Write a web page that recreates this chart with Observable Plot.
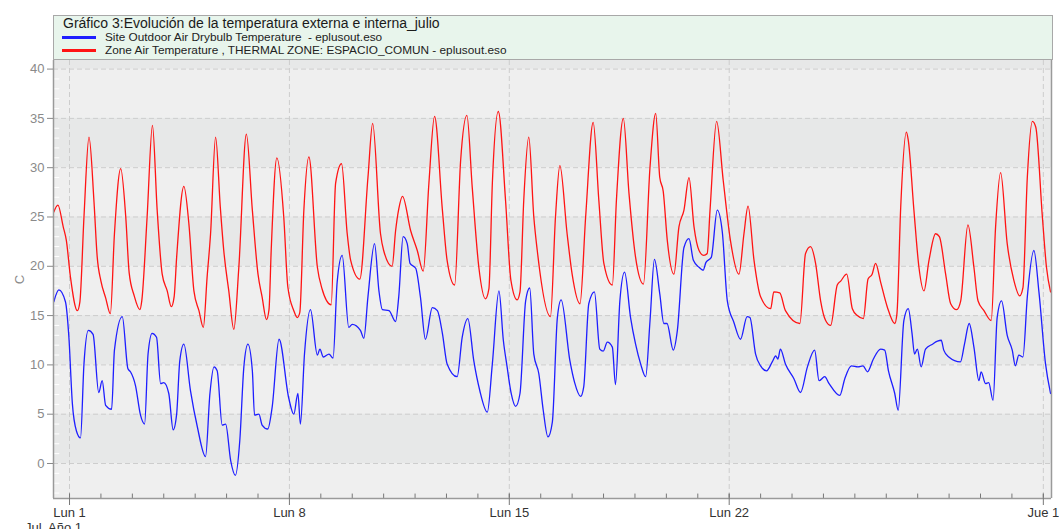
<!DOCTYPE html>
<html><head><meta charset="utf-8">
<script src="https://cdn.jsdelivr.net/npm/d3@7"></script>
<script src="https://cdn.jsdelivr.net/npm/@observablehq/plot@0.6"></script>
<style>
body{margin:0;background:#fff;font-family:"Liberation Sans",Arial,sans-serif;}
#wrap{position:relative;width:1059px;height:529px;overflow:hidden;background:#fff;}
#legend{position:absolute;left:53px;top:15px;width:1000px;height:45px;background:#e8f5ec;border:1px solid #a8a8a8;box-sizing:border-box;}
#legend .title{position:absolute;left:9px;top:0px;font-size:14px;line-height:14px;color:#1a1a1a;white-space:pre;}
#legend .row{position:absolute;left:8px;font-size:11.8px;line-height:13px;color:#222;white-space:pre;}
#legend .sw{display:inline-block;width:34px;height:3px;vertical-align:middle;margin-right:9px;}
#chart{position:absolute;left:0;top:60px;}
#sub{position:absolute;left:25px;top:521px;font-size:13px;line-height:13px;color:#333;white-space:pre;}
</style></head>
<body><div id="wrap">
<div id="legend"></div>
<div id="chart"></div>
<div id="sub"></div>
</div>
<script>
// ---- data (day offset from Jul 1 00:00, temperature °C) ----
const titleText = "Gráfico 3:Evolución de la temperatura externa e interna_julio";
const seriesNames = ["Site Outdoor Air Drybulb Temperature  - eplusout.eso",
                     "Zone Air Temperature , THERMAL ZONE: ESPACIO_COMUN - eplusout.eso"];
const seriesColors = ["#1e1eff", "#ff1414"];
const majorDays = [0, 7, 14, 21, 31];
const majorLabels = ["Lun 1", "Lun 8", "Lun 15", "Lun 22", "Jue 1"];
const minorDays = d3.range(0, 32);
const yTicks = [0, 5, 10, 15, 20, 25, 30, 35, 40];
const minorY = d3.range(-3, 41).filter(v => v % 5 !== 0);
const bandLo = [0, 10, 20, 30, 40];
const bandHi = [5, 15, 25, 35, 45];
const yLabel = "C";
const subLabel = "Jul  Año 1";

const outdoor = [
[-0.5,16.4],[-0.34,17.6],[-0.13,16.4],[-0.02,12.8],[0.09,6.1],[0.22,3.3],[0.35,2.6],[0.46,10.1],[0.6,13.5],[0.75,13.1],[0.93,7.2],
[1.04,8.4],[1.15,5.9],[1.34,5.5],[1.43,11.5],[1.68,14.9],[1.86,9.6],[1.94,9.3],
[2.1,7.9],[2.26,4.9],[2.39,4.0],[2.5,11.1],[2.63,13.2],[2.77,12.8],[2.9,8.1],[3.0,8.2],
[3.16,7.1],[3.3,3.4],[3.41,5.0],[3.51,10.4],[3.64,12.1],[3.85,7.4],
[4.07,3.7],[4.33,0.7],[4.47,7.1],[4.6,9.8],[4.7,9.4],[4.86,3.9],[4.97,4.0],
[5.13,0.3],[5.28,-1.2],[5.42,2.3],[5.55,9.8],[5.68,12.1],[5.82,9.4],[5.89,4.9],
[6.03,5.0],[6.13,3.9],[6.31,3.5],[6.45,5.7],[6.67,12.6],[6.98,6.6],
[7.14,5.0],[7.27,7.1],[7.35,4.0],[7.48,11.1],[7.67,15.6],[7.89,11.0],[7.97,11.6],
[8.08,10.8],[8.26,11.1],[8.39,10.7],[8.52,18.4],[8.68,21.1],[8.89,13.8],
[9.0,14.1],[9.26,13.5],[9.37,12.7],[9.5,16.9],[9.71,22.3],[9.85,17.5],[9.96,15.6],
[10.17,15.5],[10.38,14.4],[10.48,16.9],[10.62,23.0],[10.75,22.3],[10.84,20.3],
[11.02,19.8],[11.17,16.9],[11.33,12.6],[11.55,15.8],[11.71,15.5],[11.87,13.2],
[12.02,10.1],[12.34,8.8],[12.5,12.8],[12.68,14.7],[12.87,10.4],
[13.06,7.4],[13.3,5.2],[13.46,10.1],[13.67,17.5],[13.81,12.5],[13.93,9.8],
[14.06,7.1],[14.2,5.8],[14.34,7.1],[14.52,16.5],[14.65,17.8],[14.78,11.1],[14.94,9.1],
[15.08,5.4],[15.23,2.7],[15.37,4.2],[15.53,14.8],[15.65,16.6],[15.93,10.4],
[16.08,8.2],[16.27,6.8],[16.37,7.8],[16.53,16.2],[16.71,17.4],[16.88,11.6],[16.99,11.4],
[17.12,12.3],[17.28,11.8],[17.38,8.0],[17.52,16.5],[17.67,19.4],[17.86,14.8],
[18.02,12.1],[18.18,10.1],[18.34,8.8],[18.48,14.5],[18.62,20.7],[18.79,17.2],[18.92,14.2],
[19.02,14.2],[19.22,11.5],[19.35,13.5],[19.56,21.9],[19.72,22.8],[19.86,20.6],
[20.04,19.9],[20.17,19.6],[20.26,20.4],[20.43,20.9],[20.62,25.7],[20.78,23.5],[20.94,16.5],
[21.15,14.3],[21.36,12.6],[21.57,14.9],[21.66,14.8],[21.84,11.1],
[22.0,9.9],[22.19,9.4],[22.37,10.3],[22.48,10.9],[22.55,10.6],[22.63,11.6],[22.79,10.1],
[23.06,8.6],[23.27,7.2],[23.49,9.8],[23.72,11.5],[23.86,8.4],
[24.04,8.8],[24.18,8.1],[24.52,6.9],[24.68,8.6],[24.89,9.9],
[25.1,9.8],[25.26,9.9],[25.4,9.3],[25.59,10.6],[25.82,11.6],[25.95,11.5],
[26.07,9.4],[26.27,7.1],[26.38,5.4],[26.56,14.5],[26.7,15.7],[26.82,13.2],[26.9,11.1],
[26.99,11.6],[27.11,9.8],[27.25,11.6],[27.47,12.1],[27.63,12.4],[27.75,12.5],[27.83,11.5],
[27.99,10.8],[28.36,10.3],[28.49,12.1],[28.64,14.2],[28.79,11.8],[28.95,8.4],
[29.02,9.3],[29.16,8.1],[29.26,8.2],[29.4,6.4],[29.53,14.8],[29.67,16.5],[29.85,13.0],
[30.01,11.5],[30.11,9.9],[30.22,11.0],[30.35,10.8],[30.49,16.9],[30.7,21.6],[30.86,17.4],
[31.07,10.1],[31.23,7.1]
];

const zone = [
[-0.5,25.5],[-0.37,26.2],[-0.2,24.0],[-0.1,22.6],[0.03,18.9],[0.25,15.5],[0.33,16.4],[0.46,25.0],[0.62,33.1],[0.78,26.5],[0.88,21.0],
[1.0,18.5],[1.15,16.8],[1.3,15.2],[1.43,23.3],[1.63,29.9],[1.79,25.0],[1.9,19.3],
[2.06,17.0],[2.24,15.6],[2.3,16.5],[2.47,25.0],[2.64,34.3],[2.79,25.7],[2.95,19.2],
[3.11,17.5],[3.24,15.9],[3.33,16.9],[3.41,20.9],[3.64,28.1],[3.8,24.3],[3.96,17.5],
[4.12,15.5],[4.26,13.8],[4.38,18.9],[4.49,23.3],[4.65,33.1],[4.8,26.0],[4.91,21.6],
[5.07,17.5],[5.23,13.6],[5.39,19.9],[5.63,33.4],[5.82,25.7],
[6.0,19.2],[6.13,16.9],[6.27,14.6],[6.35,15.6],[6.42,21.6],[6.6,31.0],[6.82,25.0],[6.95,17.9],
[7.14,15.5],[7.25,14.8],[7.33,15.3],[7.46,25.7],[7.62,31.1],[7.89,19.9],
[8.04,17.7],[8.33,16.1],[8.47,28.4],[8.66,30.4],[8.84,23.3],[8.95,20.6],
[9.24,18.7],[9.5,29.0],[9.65,34.5],[9.9,23.3],
[10.0,21.6],[10.27,20.0],[10.38,23.6],[10.48,25.8],[10.6,27.1],[10.86,23.6],
[11.07,21.6],[11.26,19.5],[11.44,28.4],[11.62,35.2],[11.87,25.7],
[12.02,20.6],[12.26,18.1],[12.45,30.7],[12.65,35.3],[12.82,28.0],
[13.03,19.9],[13.24,16.7],[13.35,17.7],[13.46,28.4],[13.65,35.7],[13.88,26.7],
[14.05,18.6],[14.25,16.6],[14.34,17.4],[14.46,26.7],[14.62,33.1],[14.78,25.0],[14.89,21.6],
[15.31,14.9],[15.47,25.0],[15.61,30.2],[15.84,23.3],
[16.0,19.2],[16.25,16.2],[16.43,25.0],[16.67,34.6],[16.85,26.7],
[17.01,20.3],[17.28,18.1],[17.41,26.7],[17.63,35.0],[17.81,27.4],
[18.02,20.9],[18.27,18.2],[18.48,30.1],[18.66,35.5],[18.79,29.0],[18.9,27.6],
[19.03,22.6],[19.24,19.2],[19.4,24.0],[19.56,25.7],[19.72,29.0],[19.88,24.0],
[20.04,21.6],[20.19,21.1],[20.3,21.3],[20.39,25.7],[20.6,34.7],[20.81,28.7],
[21.04,22.6],[21.31,19.2],[21.47,23.3],[21.6,26.1],[21.79,20.6],
[22.0,16.9],[22.32,15.7],[22.42,17.4],[22.61,17.3],[22.79,15.5],
[23.25,14.2],[23.43,21.3],[23.59,22.0],[23.75,20.3],[23.91,16.5],
[24.07,14.5],[24.23,14.0],[24.44,18.1],[24.55,18.5],[24.74,19.2],[24.92,15.7],
[25.08,15.0],[25.27,14.7],[25.42,18.7],[25.55,19.2],[25.66,20.3],[25.82,18.4],
[26.03,15.9],[26.27,14.2],[26.34,15.2],[26.46,26.0],[26.64,33.6],[26.7,32.8],[26.88,25.7],
[27.04,19.9],[27.2,17.5],[27.36,20.6],[27.57,23.3],[27.69,23.0],[27.89,19.2],
[28.05,16.2],[28.24,15.6],[28.37,16.5],[28.6,24.2],[28.79,19.9],[28.92,16.5],
[29.11,15.5],[29.34,14.5],[29.48,24.0],[29.64,29.5],[29.85,22.3],
[30.06,18.6],[30.25,17.0],[30.35,17.8],[30.49,29.0],[30.65,34.7],[30.76,34.1],[30.97,25.0],
[31.1,19.9],[31.23,17.4]
];

// ---- legend ----
const legend = document.getElementById("legend");
legend.innerHTML = `<div class="title">${titleText}</div>` +
  seriesNames.map((n, i) => `<div class="row" style="top:${15 + i * 13}px"><span class="sw" style="background:${seriesColors[i]}"></span>${n}</div>`).join("");
document.getElementById("sub").textContent = subLabel;

// ---- chart ----
const xDom = [-0.51, 31.26];
const yDom = [-3.55, 40.87];
const bands = bandLo.map((lo, i) => ({lo, hi: bandHi[i]}));

const chart = Plot.plot({
  width: 1059, height: 469,
  marginTop: 0, marginBottom: 31, marginLeft: 53, marginRight: 8,
  x: {domain: xDom},
  y: {domain: yDom},
  style: {fontFamily: "'Liberation Sans', Arial, sans-serif", fontSize: "13px", background: "transparent"},
  marks: [
    Plot.frame({fill: "#efefef", stroke: null}),
    Plot.rect(bands, {x1: xDom[0], x2: xDom[1], y1: "lo", y2: "hi", fill: "#e7e8e8", clip: true}),
    Plot.ruleY(yTicks, {stroke: "#cdcdcd", strokeDasharray: "5,3"}),
    Plot.ruleX(majorDays, {stroke: "#cdcdcd", strokeDasharray: "5,3"}),
    Plot.ruleY(minorY, {x1: xDom[0], x2: xDom[0] + 0.2, stroke: "#ffffff", strokeWidth: 1}),
    Plot.line(outdoor, {x: d => d[0], y: d => d[1], stroke: seriesColors[0], strokeWidth: 1.3, curve: "monotone-x", clip: true}),
    Plot.line(zone, {x: d => d[0], y: d => d[1], stroke: seriesColors[1], strokeWidth: 1.3, curve: "monotone-x", clip: true}),
    Plot.ruleX(minorDays, {y1: yDom[0], y2: yDom[0] + 0.45, stroke: "#777"}),
    Plot.ruleX(majorDays, {y1: yDom[0], y2: yDom[0] + 0.45, stroke: "#777"}),
    Plot.ruleX([xDom[0]], {stroke: "#9a9a9a", strokeWidth: 1.5}),
    Plot.ruleX([xDom[1]], {stroke: "#9a9a9a", strokeWidth: 1.5}),
    Plot.ruleY([yDom[0]], {stroke: "#9a9a9a", strokeWidth: 1.5}),
    Plot.axisY({ticks: yTicks, tickSize: 6, tickPadding: 3, stroke: "#888", fill: "#8a8a8a",
      label: yLabel, labelAnchor: "center", labelOffset: 39, labelArrow: "none"}),
    Plot.axisX({ticks: majorDays, tickFormat: d => majorLabels[majorDays.indexOf(d)],
      tickSize: 7, tickPadding: 2, stroke: "#777", fill: "#333", label: null})
  ]
});
document.getElementById("chart").appendChild(chart);
</script>
</body></html>
